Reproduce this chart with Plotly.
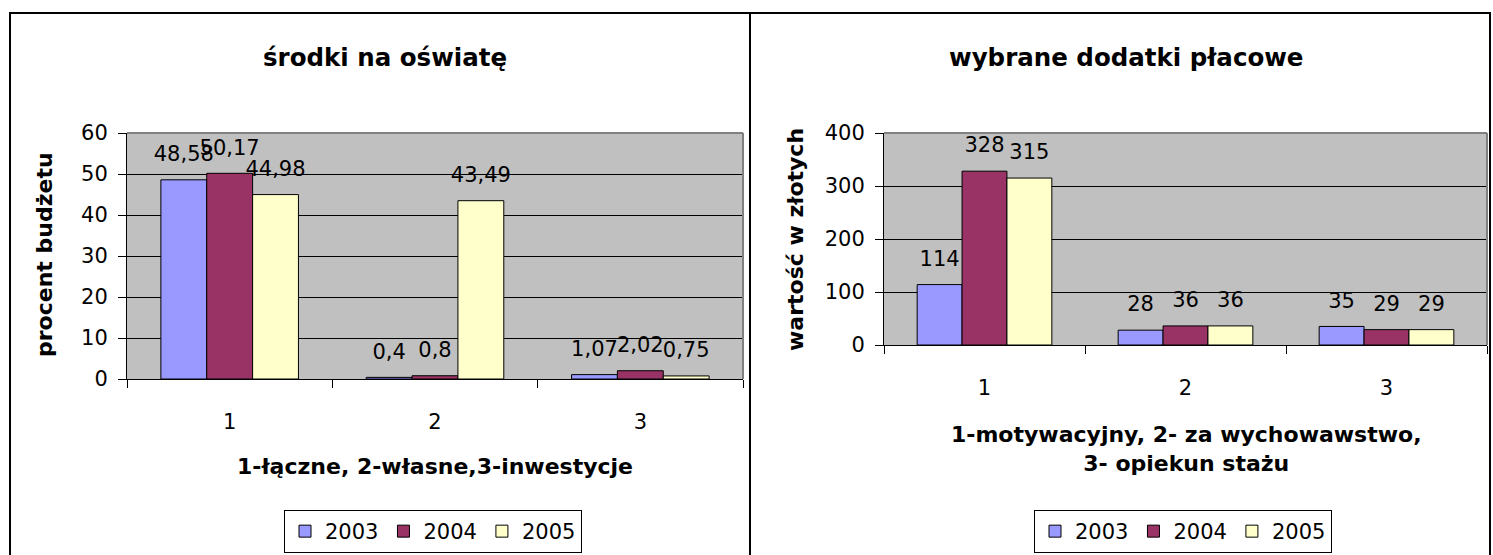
import plotly.graph_objects as go

# ---- data ----
categories = ["1", "2", "3"]
years = ["2003", "2004", "2005"]
left_2003 = [48.58, 0.4, 1.07]
left_2004 = [50.17, 0.8, 2.02]
left_2005 = [44.98, 43.49, 0.75]
right_2003 = [114, 28, 35]
right_2004 = [328, 36, 29]
right_2005 = [315, 36, 29]
left_ticks = [0, 10, 20, 30, 40, 50, 60]
right_ticks = [0, 100, 200, 300, 400]

colors = ["#9999FF", "#993366", "#FFFFCC"]
FONT = "DejaVu Sans, Arial, sans-serif"
NUM = 21
W, H = 1493, 555


def fmt(v):
    return ("%g" % v).replace(".", ",")


def px(x):
    return x / W


def py(y):
    return 1 - y / H


xs = [1, 2, 3]
fig = go.Figure()
panels = [
    ("x", "y", "legend", [left_2003, left_2004, left_2005]),
    ("x2", "y2", "legend2", [right_2003, right_2004, right_2005]),
]
for xa, ya, lg, series in panels:
    for i, (name, vals) in enumerate(zip(years, series)):
        fig.add_trace(go.Bar(x=xs, y=vals, name=name, marker_color=colors[i],
                             marker_line=dict(color="black", width=1),
                             xaxis=xa, yaxis=ya, legend=lg, hoverinfo="skip"))
    # value labels, grouped so they sit over the matching bars
    for i, (name, vals) in enumerate(zip(years, series)):
        fig.add_trace(go.Scatter(x=xs, y=vals, mode="markers+text", orientation="v",
                                 text=[fmt(v) for v in vals], textposition="top center",
                                 textfont=dict(family=FONT, size=NUM, color="black"),
                                 marker=dict(size=20, opacity=0),
                                 cliponaxis=False, showlegend=False, hoverinfo="skip",
                                 xaxis=xa, yaxis=ya))

xcommon = dict(range=[0.5, 3.5], tickvals=xs, ticktext=categories, ticks="",
               showline=True, linecolor="black", linewidth=1, showgrid=False,
               zeroline=False, tickfont=dict(family=FONT, size=NUM, color="black"),
               ticklabelstandoff=24,
               minor=dict(tickvals=[0.5, 1.5, 2.5, 3.5], ticks="outside", ticklen=8,
                          tickcolor="black", tickwidth=1, showgrid=False))
ycommon = dict(showline=True, linecolor="black", linewidth=1, ticks="outside",
               ticklen=8, tickcolor="black", showgrid=True, gridcolor="black",
               gridwidth=1, zeroline=False, ticklabelstandoff=6,
               tickfont=dict(family=FONT, size=NUM, color="black"))

legcommon = dict(orientation="h", yanchor="top", xanchor="center", y=py(510),
                 bordercolor="black", borderwidth=1, bgcolor="white",
                 font=dict(family=FONT, size=NUM, color="black"),
                 itemwidth=30, itemclick=False, itemdoubleclick=False)

fig.update_layout(
    width=W, height=H, margin=dict(l=0, r=0, t=0, b=0, autoexpand=False),
    paper_bgcolor="white", plot_bgcolor="#C0C0C0",
    barmode="group", bargap=0.33, bargroupgap=0,
    scattermode="group", scattergap=0.33,
    font=dict(family=FONT, color="black"),
    xaxis=dict(domain=[px(127), px(743)], anchor="y", **xcommon),
    yaxis=dict(domain=[py(379), py(133)], anchor="x", range=[0, 60],
               tickvals=left_ticks, **ycommon),
    xaxis2=dict(domain=[px(884), px(1487)], anchor="y2", **xcommon),
    yaxis2=dict(domain=[py(345), py(133)], anchor="x2", range=[0, 400],
                tickvals=right_ticks, **ycommon),
    legend=dict(x=px(433), **legcommon),
    legend2=dict(x=px(1183), **legcommon),
    showlegend=True,
)

# plot-area top/right border (grey)
for xa, ya in [("x", "y"), ("x2", "y2")]:
    fig.add_shape(type="line", xref=f"{xa} domain", yref=f"{ya} domain",
                  x0=0, x1=1, y0=1, y1=1, line=dict(color="#808080", width=2), layer="above")
    fig.add_shape(type="line", xref=f"{xa} domain", yref=f"{ya} domain",
                  x0=1, x1=1, y0=0, y1=1, line=dict(color="#808080", width=2), layer="above")

# panel frames
fig.add_shape(type="rect", xref="paper", yref="paper", x0=px(10), x1=px(1490),
              y0=-0.05, y1=py(13), line=dict(color="black", width=2), layer="above")
fig.add_shape(type="line", xref="paper", yref="paper", x0=px(750), x1=px(750),
              y0=-0.05, y1=py(13), line=dict(color="black", width=2), layer="above")

ttl = dict(family=FONT, size=24.5, color="black")
axt = dict(family=FONT, size=22, color="black")
annos = [
    dict(text="<b>środki na oświatę</b>", x=px(385), y=py(57), font=ttl),
    dict(text="<b>wybrane dodatki płacowe</b>", x=px(1126), y=py(57), font=ttl),
    dict(text="<b>procent budżetu</b>", x=px(45), y=py(255), textangle=-90, font=axt),
    dict(text="<b>wartość w złotych</b>", x=px(795), y=py(240), textangle=-90, font=axt),
    dict(text="<b>1-łączne, 2-własne,3-inwestycje</b>", x=px(435), y=py(466), font=axt),
    dict(text="<b>1-motywacyjny, 2- za wychowawstwo,<br>3- opiekun stażu</b>",
         x=px(1186), y=py(449), font=axt),
]
for a in annos:
    fig.add_annotation(xref="paper", yref="paper", showarrow=False,
                       xanchor="center", yanchor="middle", **a)

fig.write_html("out.html", config={"displayModeBar": False},
               post_script="document.body.style.margin='0';document.body.style.overflow='hidden';")
